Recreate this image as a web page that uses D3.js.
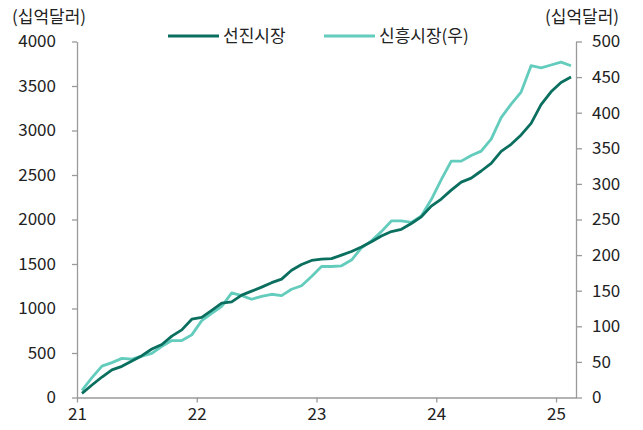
<!DOCTYPE html>
<html>
<head>
<meta charset="utf-8">
<script src="https://cdn.jsdelivr.net/npm/d3@7"></script>
<style>
  body { margin: 0; background: #fff; }
  text { font-family: "Noto Sans CJK KR", "Noto Sans", sans-serif; fill: #222; }
</style>
</head>
<body>
<svg id="chart" width="643" height="430"></svg>
<script>
// monthly, Jan 2021 .. Feb 2025
const advanced = [
  47, 140, 230, 310, 350, 410, 470, 545, 595, 690,
  760, 880, 900, 980, 1060, 1075, 1150, 1195, 1240, 1290,
  1330, 1430, 1495, 1540, 1555, 1560, 1600, 1640, 1690, 1750,
  1815, 1865, 1890, 1955, 2030, 2150, 2230, 2330, 2420, 2465,
  2545, 2630, 2765, 2845, 2950, 3080, 3290, 3435, 3540, 3600
];
const emerging = [
  10, 28, 44, 49, 55, 54, 58, 62, 72, 80,
  80, 88, 108, 118, 128, 147, 143, 138, 142, 145,
  143, 152, 157, 170, 184, 184, 185, 193, 210, 220,
  233, 248, 248, 246, 255, 278, 306, 332, 332, 340,
  346, 363, 393, 412, 429, 466, 463, 467, 471, 466
];
const yearLabels = ["21", "22", "23", "24", "25"];
const leftTicks = [0, 500, 1000, 1500, 2000, 2500, 3000, 3500, 4000];
const rightTicks = [0, 50, 100, 150, 200, 250, 300, 350, 400, 450, 500];

const series = [
  { label: "선진시장", values: advanced, color: "#0b6f60", axis: "left" },
  { label: "신흥시장(우)", values: emerging, color: "#63ccbc", axis: "right" },
];

const svg = d3.select("#chart");
const m = { left: 77, right: 67, top: 41.5, bottom: 32.5 };
const w = 643, h = 430;

const x = d3.scaleLinear().domain([0, advanced.length]).range([m.left, w - m.right]);
const yL = d3.scaleLinear().domain([0, 4000]).range([h - m.bottom, m.top]);
const yR = d3.scaleLinear().domain([0, 500]).range([h - m.bottom, m.top]);

const axisColor = "#9a9a9a";
const fmt = d3.format("d");

function styleAxis(g) {
  g.select(".domain").attr("stroke", axisColor).attr("stroke-width", 1.3);
  g.selectAll(".tick line").attr("stroke", axisColor).attr("stroke-width", 1.3);
  g.selectAll(".tick text").attr("font-size", 17).attr("fill", "#222")
    .attr("font-family", "'Noto Sans CJK KR', 'Noto Sans', sans-serif");
}

svg.append("g")
  .attr("transform", `translate(${m.left},0)`)
  .call(d3.axisLeft(yL).tickValues(leftTicks).tickFormat(fmt)
    .tickSize(5).tickPadding(16).tickSizeOuter(0))
  .call(styleAxis);

svg.append("g")
  .attr("transform", `translate(${w - m.right},0)`)
  .call(d3.axisRight(yR).tickValues(rightTicks).tickFormat(fmt)
    .tickSize(6).tickPadding(10).tickSizeOuter(0))
  .call(g => g.selectAll(".tick text").attr("text-anchor", "start"))
  .call(styleAxis);

svg.append("g")
  .attr("transform", `translate(0,${h - m.bottom})`)
  .call(d3.axisBottom(x)
    .tickValues(yearLabels.map((d, i) => i * 12))
    .tickFormat((d, i) => yearLabels[i])
    .tickSize(5).tickPadding(5).tickSizeOuter(0))
  .call(styleAxis);

const line = yScale => d3.line()
  .x((d, i) => x(i + 0.5))
  .y(d => yScale(d));

series.slice().reverse().forEach(s => {
  svg.append("path")
    .datum(s.values)
    .attr("fill", "none")
    .attr("stroke", s.color)
    .attr("stroke-width", 2.8)
    .attr("stroke-linejoin", "round")
    .attr("d", line(s.axis === "left" ? yL : yR));
});

// unit labels
svg.append("text").attr("x", 12).attr("y", 23).attr("font-size", 17).text("(십억달러)");
svg.append("text").attr("x", 545).attr("y", 23).attr("font-size", 17).text("(십억달러)");

// legend
const legendItems = [
  { s: series[0], x: 168 },
  { s: series[1], x: 324 },
];
legendItems.forEach(({ s, x: lx }) => {
  svg.append("line")
    .attr("x1", lx).attr("x2", lx + 51)
    .attr("y1", 36).attr("y2", 36)
    .attr("stroke", s.color).attr("stroke-width", 2.8);
  svg.append("text")
    .attr("x", lx + 55).attr("y", 36)
    .attr("dy", "0.35em")
    .attr("font-size", 17)
    .text(s.label);
});
</script>
</body>
</html>
